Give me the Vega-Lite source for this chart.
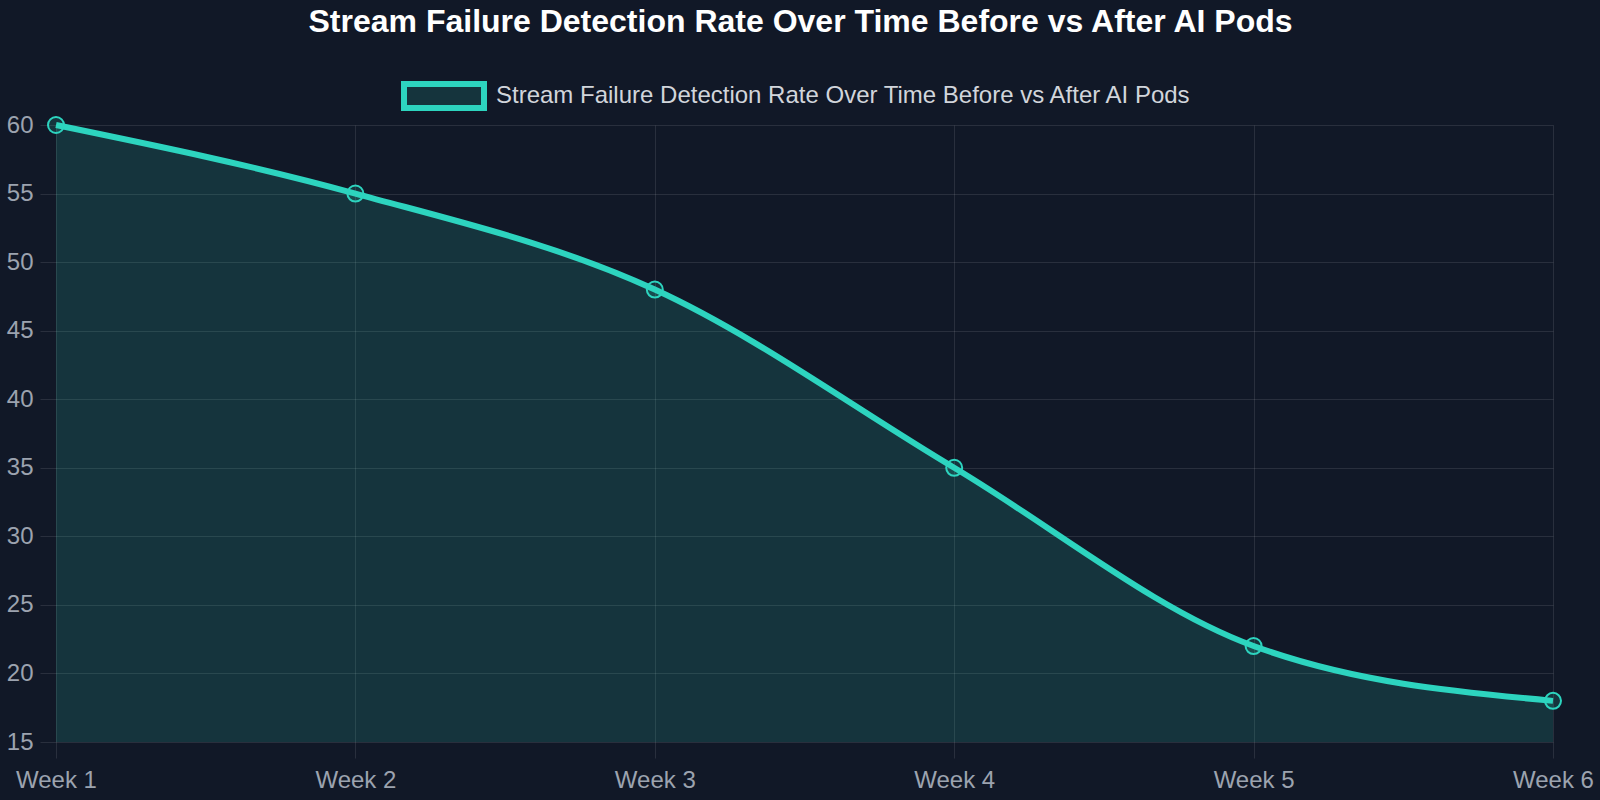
{
  "$schema": "https://vega.github.io/schema/vega-lite/v6.json",
  "width": 1497,
  "height": 617,
  "autosize": {"type": "none"},
  "padding": {"left": 56, "top": 125, "right": 47, "bottom": 58},
  "background": "#111827",
  "title": {
    "text": "Stream Failure Detection Rate Over Time Before vs After AI Pods",
    "font": "Liberation Sans",
    "fontSize": 32,
    "fontWeight": "bold",
    "color": "#ffffff",
    "anchor": "middle",
    "offset": 14,
    "dx": -4
  },
  "data": {
    "values": [
      {"week": "Week 1", "rate": 60, "series": "Stream Failure Detection Rate Over Time Before vs After AI Pods"},
      {"week": "Week 2", "rate": 55, "series": "Stream Failure Detection Rate Over Time Before vs After AI Pods"},
      {"week": "Week 3", "rate": 48, "series": "Stream Failure Detection Rate Over Time Before vs After AI Pods"},
      {"week": "Week 4", "rate": 35, "series": "Stream Failure Detection Rate Over Time Before vs After AI Pods"},
      {"week": "Week 5", "rate": 22, "series": "Stream Failure Detection Rate Over Time Before vs After AI Pods"},
      {"week": "Week 6", "rate": 18, "series": "Stream Failure Detection Rate Over Time Before vs After AI Pods"}
    ]
  },
  "encoding": {
    "x": {
      "field": "week",
      "type": "ordinal",
      "sort": null,
      "scale": {"type": "point", "padding": 0},
      "axis": {
        "title": null,
        "labelAngle": 0,
        "grid": true,
        "domain": false,
        "tickSize": 16,
        "labelPadding": 10,
        "labelOverlap": false,
        "labelFlush": false
      }
    },
    "y": {
      "field": "rate",
      "type": "quantitative",
      "scale": {"domain": [15, 60], "nice": false, "zero": false},
      "axis": {
        "title": null,
        "values": [15, 20, 25, 30, 35, 40, 45, 50, 55, 60],
        "grid": true,
        "domain": false,
        "tickSize": 16,
        "labelPadding": 7
      }
    }
  },
  "layer": [
    {
      "mark": {"type": "area", "interpolate": "monotone", "clip": true},
      "encoding": {
        "fill": {
          "field": "series",
          "type": "nominal",
          "scale": {"range": ["rgba(45,212,191,0.15)"]},
          "legend": {
            "title": null,
            "orient": "none",
            "legendX": 345,
            "legendY": -72,
            "padding": 0,
            "symbolType": "M-1,-0.3H1V0.3H-1Z",
            "symbolSize": 6400,
            "symbolStrokeColor": "#2dd4bf",
            "symbolStrokeWidth": 6,
            "symbolOpacity": 1,
            "labelFont": "Liberation Sans",
            "labelFontSize": 24,
            "labelColor": "#d1d5db",
            "labelOffset": 9,
            "labelLimit": 0
          }
        }
      }
    },
    {
      "mark": {"type": "line", "interpolate": "monotone", "color": "#2dd4bf", "strokeWidth": 6}
    },
    {
      "mark": {
        "type": "point",
        "shape": "circle",
        "size": 256,
        "filled": true,
        "fill": "rgba(45,212,191,0.15)",
        "stroke": "#2dd4bf",
        "strokeWidth": 2,
        "opacity": 1
      }
    }
  ],
  "config": {
    "view": {"stroke": null},
    "axis": {
      "labelFont": "Liberation Sans",
      "labelFontSize": 24,
      "labelColor": "#9ca3af",
      "gridColor": "#ffffff",
      "gridOpacity": 0.1,
      "tickColor": "#ffffff",
      "tickOpacity": 0.1
    }
  }
}
